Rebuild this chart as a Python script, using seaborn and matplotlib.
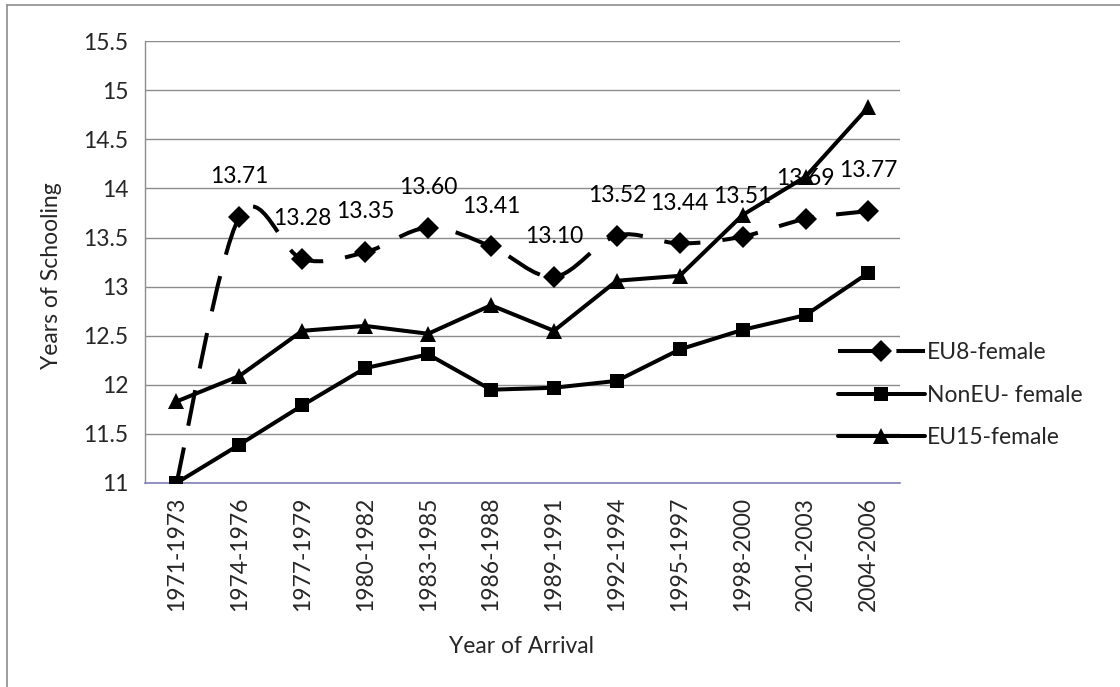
import numpy as np
import pandas as pd
import seaborn as sns
import matplotlib.pyplot as plt
from matplotlib.path import Path
from matplotlib.patches import PathPatch
from matplotlib.lines import Line2D

periods = ['1971-1973', '1974-1976', '1977-1979', '1980-1982', '1983-1985', '1986-1988',
           '1989-1991', '1992-1994', '1995-1997', '1998-2000', '2001-2003', '2004-2006']
eu8_female = [11.0, 13.71, 13.28, 13.35, 13.60, 13.41, 13.10, 13.52, 13.44, 13.51, 13.69, 13.77]
noneu_female = [11.0, 11.39, 11.79, 12.17, 12.31, 11.95, 11.97, 12.04, 12.36, 12.56, 12.71, 13.14]
eu15_female = [11.83, 12.09, 12.55, 12.60, 12.52, 12.81, 12.55, 13.06, 13.11, 13.73, 14.12, 14.83]
eu8_labels = ['', '13.71', '13.28', '13.35', '13.60', '13.41', '13.10', '13.52', '13.44',
              '13.51', '13.69', '13.77']

FONT = 'Lato'
FS = 16.5
LW = 2.9
DASH = (0, (9, 5.5))


def smooth_path(xs, ys):
    # Excel style smoothed line: cubic bezier segments through every point
    pts = np.column_stack([xs, ys]).astype(float)
    verts = [pts[0]]
    codes = [Path.MOVETO]
    n = len(pts)
    for i in range(n - 1):
        p0 = pts[max(i - 1, 0)]
        p1 = pts[i]
        p2 = pts[i + 1]
        p3 = pts[min(i + 2, n - 1)]
        c1 = p1 + (p2 - p0) / 6.0
        c2 = p2 - (p3 - p1) / 6.0
        verts += [c1, c2, p2]
        codes += [Path.CURVE4] * 3
    return Path(verts, codes)


sns.set_style('white')
plt.rcParams['font.family'] = [FONT, 'DejaVu Sans']

x = np.arange(len(periods))
df = pd.DataFrame({'x': x, 'EU8': eu8_female, 'NonEU': noneu_female, 'EU15': eu15_female})

fig = plt.figure(figsize=(11.2, 6.87), dpi=100)
ax = fig.add_axes([0.1295, 0.297, 0.674, 0.643])

# gridlines
for v in np.arange(11, 15.51, 0.5):
    ax.axhline(v, color='#8c8c8c', lw=1.0, zorder=0)

# EU8: smoothed dashed line plus markers
patch = PathPatch(smooth_path(x, eu8_female), fill=False, edgecolor='black', lw=LW,
                  linestyle=DASH, capstyle='butt', zorder=3)
ax.add_patch(patch)
sns.lineplot(data=df.iloc[1:], x='x', y='EU8', ax=ax, color='black', linestyle='',
             marker='D', markersize=11, markeredgewidth=0, zorder=4, legend=False)

sns.lineplot(data=df, x='x', y='NonEU', ax=ax, color='black', lw=LW, marker='s',
             markersize=10.5, markeredgewidth=0, zorder=4, legend=False)
sns.lineplot(data=df, x='x', y='EU15', ax=ax, color='black', lw=LW, marker='^',
             markersize=12, markeredgewidth=0, zorder=4, legend=False)

for xi, yi, lab in zip(x, eu8_female, eu8_labels):
    if lab:
        ax.annotate(lab, (xi, yi), xytext=(0, 29), textcoords='offset points',
                    ha='center', va='center', fontsize=FS, color='black', zorder=5)

ax.set_xlim(-0.5, len(periods) - 0.5)
ax.set_ylim(11, 15.5)
ax.set_yticks(np.arange(11, 15.51, 0.5))
ax.set_yticklabels(['11', '11.5', '12', '12.5', '13', '13.5', '14', '14.5', '15', '15.5'])
ax.set_xticks(x)
ax.set_xticklabels(periods, rotation=90)
ax.set_xticks(np.arange(-0.5, len(periods), 1.0), minor=True)
ax.tick_params(axis='x', which='major', length=0, pad=10, labelsize=FS)
ax.tick_params(axis='x', which='minor', length=8, width=1, color='#7f7fbf', direction='out')
ax.tick_params(axis='y', length=7, width=1, color='#8c8c8c', direction='out', pad=5,
               labelsize=FS)
ax.set_xlabel('Year of Arrival', fontsize=FS)
ax.set_ylabel('Years of Schooling', fontsize=FS)
ax.xaxis.set_label_coords(0.499, -0.371)
ax.yaxis.set_label_coords(-0.124, 0.47)
ax.xaxis.label.set_va('center')
ax.yaxis.label.set_va('center')

for side in ['top', 'right']:
    ax.spines[side].set_visible(False)
ax.spines['left'].set_color('#8c8c8c')
ax.spines['left'].set_linewidth(1.0)
ax.spines['bottom'].set_color('#7f7fbf')
ax.spines['bottom'].set_linewidth(1.2)
ax.spines['bottom'].set_zorder(2)

handles = [
    Line2D([], [], color='black', lw=LW, linestyle=DASH, marker='D', markersize=11,
           markeredgewidth=0),
    Line2D([], [], color='black', lw=LW, marker='s', markersize=10.5, markeredgewidth=0),
    Line2D([], [], color='black', lw=LW, marker='^', markersize=12, markeredgewidth=0),
]
fig.legend(handles, ['EU8-female', 'NonEU- female', 'EU15-female'], loc='center left',
           bbox_to_anchor=(0.748, 0.425), frameon=False, fontsize=FS, handlelength=3.8,
           handletextpad=0.1, labelspacing=0.95, borderaxespad=0, borderpad=0)

# chart area border (only top and left visible)
fig.add_artist(Line2D([0.0063, 1.0], [0.9927, 0.9927], transform=fig.transFigure,
                      color='#8c8c8c', lw=1.2))
fig.add_artist(Line2D([0.0063, 0.0063], [0.0, 0.9927], transform=fig.transFigure,
                      color='#8c8c8c', lw=1.2))

fig.savefig('out.png', dpi=100)
